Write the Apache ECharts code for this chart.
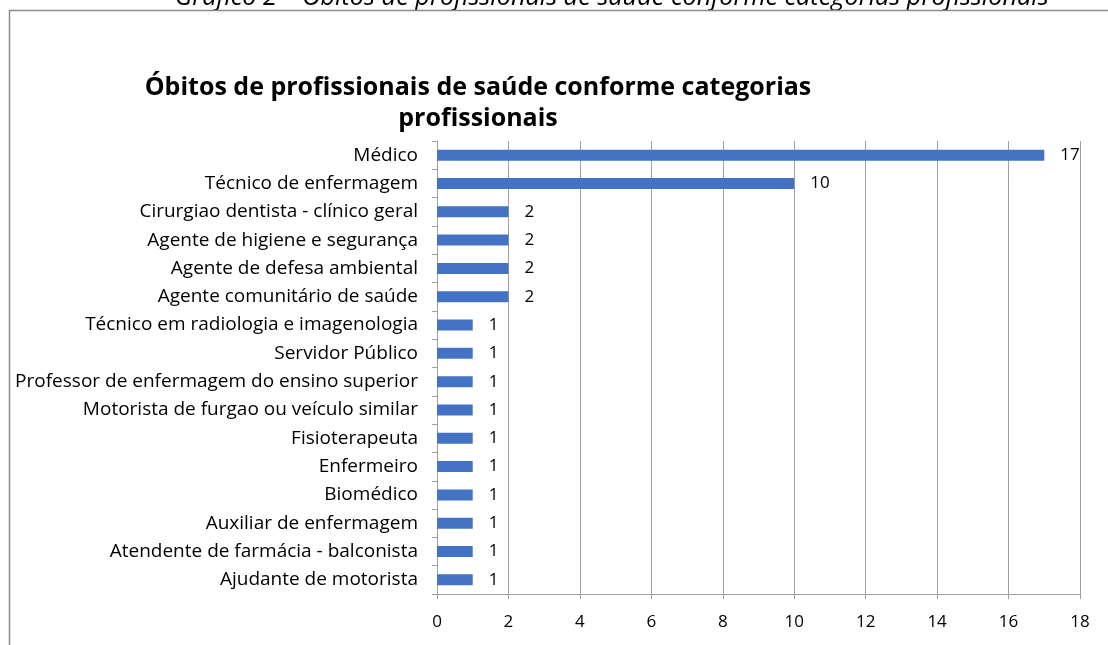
<!DOCTYPE html>
<html>
<head>
<meta charset="utf-8">
<script src="https://cdn.jsdelivr.net/npm/echarts@6/dist/echarts.min.js"></script>
<style>
html,body{margin:0;padding:0;background:#fff;}
#chart{width:1108px;height:645px;}
</style>
</head>
<body>
<div id="chart"></div>
<script>
const categories = [
  'Médico',
  'Técnico de enfermagem',
  'Cirurgiao dentista - clínico geral',
  'Agente de higiene e segurança',
  'Agente de defesa ambiental',
  'Agente comunitário de saúde',
  'Técnico em radiologia e imagenologia',
  'Servidor Público',
  'Professor de enfermagem do ensino superior',
  'Motorista de furgao ou veículo similar',
  'Fisioterapeuta',
  'Enfermeiro',
  'Biomédico',
  'Auxiliar de enfermagem',
  'Atendente de farmácia - balconista',
  'Ajudante de motorista'
];
const values = [17, 10, 2, 2, 2, 2, 1, 1, 1, 1, 1, 1, 1, 1, 1, 1];
const titleText = 'Óbitos de profissionais de saúde conforme categorias\nprofissionais';
const captionText = 'Gráfico 2 – Óbitos de profissionais de saúde conforme categorias profissionais';

const FONT = 'Open Sans';
const chart = echarts.init(document.getElementById('chart'));
chart.setOption({
  animation: false,
  backgroundColor: '#fff',
  title: {
    text: titleText,
    left: 473, top: 67,
    textAlign: 'center',
    textStyle: {fontFamily: FONT, fontSize: 25, fontWeight: 'bold', color: '#000', lineHeight: 31, align: 'center'}
  },
  graphic: [
    {type: 'text', left: 175, top: -15, style: {text: captionText, font: 'italic 25.3px "Open Sans"', fill: '#000'}, z: 10},
    {type: 'line', shape: {x1: 9, y1: 10.5, x2: 1108, y2: 10.5}, style: {stroke: '#8c8c8c', lineWidth: 1.5}, z: 20},
    {type: 'rect', shape: {x: 0, y: 11.5, width: 1108, height: 12}, style: {fill: '#fff'}, z: 15},
    {type: 'line', shape: {x1: 9.5, y1: 10, x2: 9.5, y2: 645}, style: {stroke: '#8c8c8c', lineWidth: 1.5}, z: 20}
  ],
  grid: {left: 437, right: 28, top: 141, bottom: 51, containLabel: false},
  xAxis: {
    type: 'value', min: 0, max: 18, interval: 2,
    axisLine: {show: true, lineStyle: {color: '#a0a0a0'}},
    axisTick: {show: true, length: 5, lineStyle: {color: '#a0a0a0'}},
    axisLabel: {fontFamily: FONT, fontSize: 17, color: '#000', margin: 20},
    splitLine: {show: true, lineStyle: {color: '#a0a0a0', width: 1}}
  },
  yAxis: {
    type: 'category', data: categories, inverse: true,
    axisLine: {show: true, lineStyle: {color: '#a0a0a0'}},
    axisTick: {show: true, length: 5, lineStyle: {color: '#a0a0a0'}},
    axisLabel: {fontFamily: FONT, fontSize: 19, color: '#000', margin: 19}
  },
  series: [{
    type: 'bar', data: values, barWidth: 11,
    itemStyle: {color: '#4472C4'},
    label: {show: true, position: 'right', distance: 16, fontFamily: FONT, fontSize: 17, color: '#000'}
  }]
});
</script>
</body>
</html>
